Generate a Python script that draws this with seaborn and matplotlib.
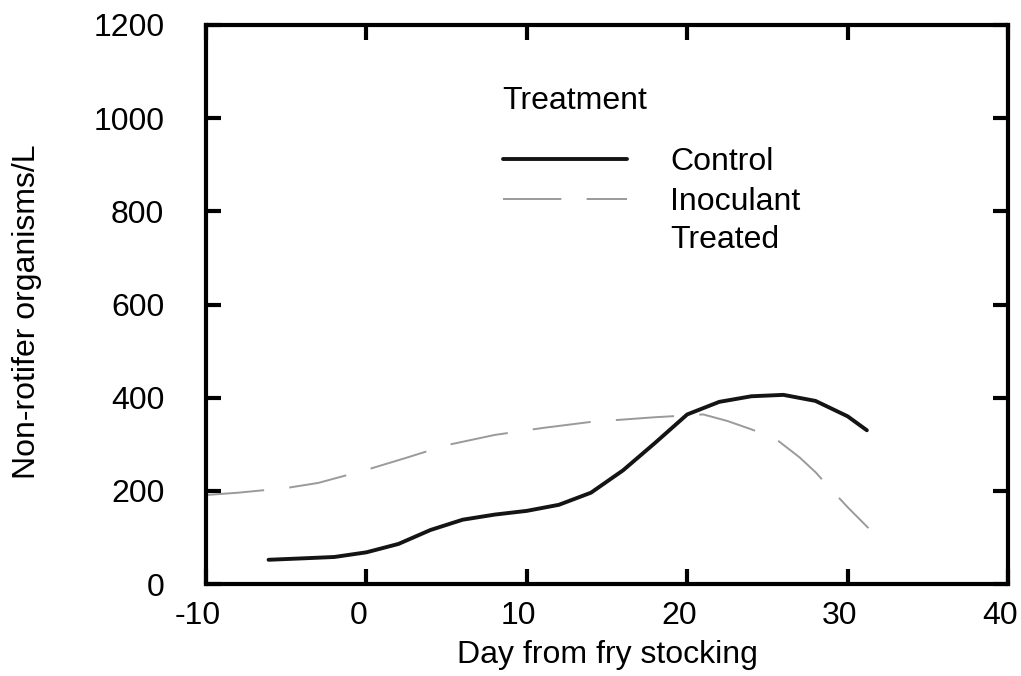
from matplotlib import pyplot as plt
from matplotlib.legend_handler import HandlerLine2D
from matplotlib import transforms
import seaborn as sns
import pandas as pd

# values
control_day = [-6.1, -4, -2, 0, 2, 4, 6, 8, 10, 12, 14, 16, 18, 20, 22, 24, 26, 28, 30, 31.2]
control_val = [52, 55, 58, 68, 86, 116, 138, 149, 157, 170, 196, 244, 303, 364, 391, 403, 406, 393, 360, 330]

inoc_day = [-10, -8, -5, -3, 0, 2.4, 5, 8, 11, 14, 18, 20, 21, 22.5, 24, 25.5, 27, 28, 29, 30, 31.3]
inoc_val = [191, 196, 206, 217, 245, 270, 298, 320, 335, 348, 358, 362, 364, 350, 332, 312, 272, 240, 202, 165, 120]

x_ticks = [-10, 0, 10, 20, 30, 40]
y_ticks = [0, 200, 400, 600, 800, 1000, 1200]

INOC = 'Inoculant\nTreated'
df = pd.concat([
    pd.DataFrame({'Day': control_day, 'Count': control_val, 'Treatment': 'Control'}),
    pd.DataFrame({'Day': inoc_day, 'Count': inoc_val, 'Treatment': INOC}),
])

sns.set_style('ticks')
plt.rcParams['font.family'] = ['Liberation Sans', 'DejaVu Sans']
plt.rcParams['axes.unicode_minus'] = False
plt.rcParams['text.color'] = 'black'
plt.rcParams['axes.labelcolor'] = 'black'
plt.rcParams['xtick.color'] = 'black'
plt.rcParams['ytick.color'] = 'black'

FS = 23


class TopAlignedLine(HandlerLine2D):
    # put the handle on the first line of a two-line label
    def create_artists(self, legend, orig_handle, xdescent, ydescent, width, height, fontsize, trans):
        artists = super().create_artists(legend, orig_handle, xdescent, ydescent, width, height, fontsize, trans)
        if '\n' in orig_handle.get_label():
            for a in artists:
                a.set_ydata([y + 0.68 * fontsize for y in a.get_ydata()])
        return artists


fig, ax = plt.subplots(figsize=(10.21, 6.76), dpi=100)
fig.subplots_adjust(left=206 / 1021, right=1008 / 1021, top=1 - 25 / 676, bottom=1 - 584 / 676)

sns.lineplot(data=df, x='Day', y='Count', hue='Treatment', style='Treatment', size='Treatment',
             hue_order=['Control', INOC],
             palette={'Control': '#141414', INOC: '#9a9a9a'},
             dashes={'Control': '', INOC: (30, 13)},
             sizes={'Control': 2.8, INOC: 1.4},
             estimator=None, sort=False, ax=ax)

ax.set_xlim(-10, 40)
ax.set_ylim(0, 1200)
ax.set_xticks(x_ticks)
ax.set_yticks(y_ticks)
ax.set_xlabel('Day from fry stocking', fontsize=FS)
ax.set_ylabel('Non-rotifer organisms/L', fontsize=FS)
ax.xaxis.set_label_coords(0.5, -0.1)
ax.yaxis.set_label_coords(-0.205, 0.487)

for s in ax.spines.values():
    s.set_visible(True)
    s.set_linewidth(3)
    s.set_color('black')
ax.tick_params(direction='in', length=11, width=3, top=True, right=True, labelsize=FS)
ax.tick_params(axis='x', pad=12)
ax.tick_params(axis='y', pad=30)

# the scanned tick labels sit a little left of their ticks
shift = transforms.ScaledTranslation(-8 / 100, 0, fig.dpi_scale_trans)
for lab in ax.get_xticklabels():
    lab.set_transform(lab.get_transform() + shift)

handles, labels = ax.get_legend_handles_labels()
keep = [(h, l) for h, l in zip(handles, labels) if l in ('Control', INOC)]
handles = [k[0] for k in keep]
labels = [k[1] for k in keep]
leg = ax.legend(handles, labels, title='Treatment', loc='upper left',
                bbox_to_anchor=(0.37, 0.89), frameon=False, fontsize=FS,
                title_fontsize=FS, handlelength=3.9, handletextpad=1.35,
                labelspacing=0.3, borderpad=0, borderaxespad=0,
                alignment='left', handler_map={plt.Line2D: TopAlignedLine()})
leg._legend_box.sep = 22
for t in leg.get_texts():
    t.set_linespacing(1.35)

fig.savefig('out.png', dpi=100)
